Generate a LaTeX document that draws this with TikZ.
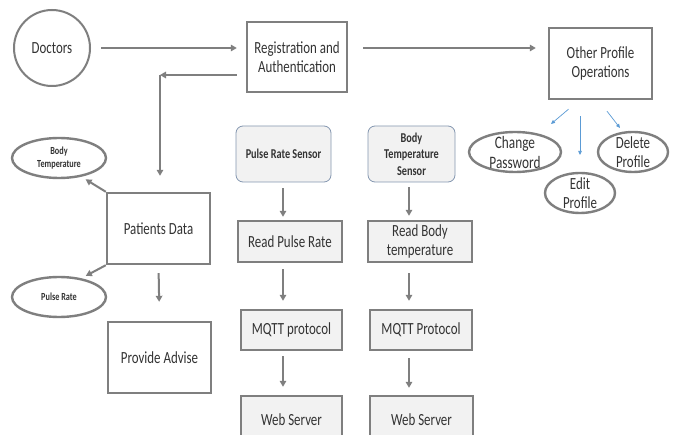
\documentclass[tikz,border=0pt]{standalone}
\usepackage{fontspec}
\setmainfont{Carlito}[FakeStretch=0.76]
\usetikzlibrary{arrows.meta,shapes.geometric}

\definecolor{edge}{HTML}{7F7F7F}
\definecolor{ink}{HTML}{333333}
\definecolor{panel}{HTML}{F2F2F2}
\definecolor{sensoredge}{HTML}{8497B0}
\definecolor{bluearrow}{HTML}{5B9BD5}

\tikzset{
  box/.style={draw=edge, line width=2.4pt, fill=white, inner sep=0pt,
    align=center, text=ink, font=\fontsize{17}{18.5}\selectfont},
  greybox/.style={box, fill=panel},
  sensorbox/.style={draw=sensoredge, line width=0.8pt, rounded corners=7pt,
    fill=panel, inner sep=0pt, align=center, text=ink,
    font=\bfseries\fontsize{13.5}{16.5}\selectfont},
  oval/.style={ellipse, draw=edge, line width=2.4pt, fill=white, inner sep=0pt},
  ovaltext/.style={align=center, text=ink, inner sep=0pt},
  arr/.style={draw=edge, line width=2pt, -{Triangle[length=6pt,width=6.5pt]}},
  bluarr/.style={draw=bluearrow, line width=0.7pt, -{Triangle[length=4pt,width=3.5pt]}},
}

\begin{document}
\begin{tikzpicture}[x=1pt,y=-1pt]
\useasboundingbox (0,0) rectangle (676,435);
\fill[white] (0,0) rectangle (676,435);
\clip (0,0) rectangle (676,435);

% top row
\node[circle, draw=edge, line width=2pt, minimum size=76pt, inner sep=0pt,
      text=ink, font=\fontsize{17}{18.5}\selectfont] (doc) at (52,48) {Doctors};
\node[box, minimum width=100pt, minimum height=70pt] (reg) at (297,57)
  {Registration and\\Authentication};
\node[box, minimum width=103pt, minimum height=71pt] (op) at (600.5,63.5)
  {Other Profile\\Operations};

% profile operations
\node[oval, minimum width=92pt, minimum height=40pt,
      label={[ovaltext, font=\fontsize{17.5}{20}\selectfont]center:Change\\Password}] (cp) at (515,152) {};
\node[oval, minimum width=70pt, minimum height=40pt,
      label={[ovaltext, font=\fontsize{17}{19}\selectfont]center:Edit\\Profile}] (ep) at (580,193) {};
\node[oval, minimum width=70pt, minimum height=40pt,
      label={[ovaltext, font=\fontsize{17}{19}\selectfont]center:Delete\\Profile}] (dp) at (633,152) {};

% doctor side
\node[box, minimum width=103pt, minimum height=71pt] (pd) at (158.5,228.5) {Patients Data};
\node[box, minimum width=103pt, minimum height=71pt] (pa) at (159.5,357.5) {Provide Advise};
\node[oval, minimum width=94pt, minimum height=40pt,
      label={[ovaltext, font=\bfseries\fontsize{10.8}{12.8}\selectfont]center:Body\\Temperature}] (bt) at (59,158) {};
\node[oval, minimum width=94pt, minimum height=40pt,
      label={[ovaltext, font=\bfseries\fontsize{10.8}{12.8}\selectfont]center:Pulse Rate}] (pr) at (59,297) {};

% pulse rate chain
\node[sensorbox, minimum width=95pt, minimum height=56pt] (prs) at (283.5,154) {Pulse Rate Sensor};
\node[greybox, minimum width=104pt, minimum height=41pt] (rpr) at (290,241.5) {Read Pulse Rate};
\node[greybox, minimum width=101pt, minimum height=40pt] (mq1) at (291.5,330) {MQTT protocol};
\node[greybox, minimum width=101pt, minimum height=48pt] (ws1) at (291.5,420) {Web Server};

% body temperature chain
\node[sensorbox, minimum width=87pt, minimum height=56pt] (bts) at (411.5,154) {Body\\Temperature\\Sensor};
\node[greybox, minimum width=104pt, minimum height=41pt] (rbt) at (420,241.5) {Read Body\\temperature};
\node[greybox, minimum width=102pt, minimum height=40pt] (mq2) at (421,330) {MQTT Protocol};
\node[greybox, minimum width=103pt, minimum height=48pt] (ws2) at (421.5,420) {Web Server};

% connectors
\coordinate (turn) at (160,75);
\coordinate (c2) at (283,0);
\coordinate (c3) at (409,0);

\draw[arr, shorten <=10pt, shorten >=9pt] (doc.east) -- (doc.east -| reg.west);
\draw[arr, shorten <=15pt, shorten >=12pt] (reg.east |- doc.east) -- (op.west |- doc.east);
\draw[arr, shorten <=9pt] (reg.west |- turn) -- (turn);
\draw[arr, shorten >=16pt] (turn) -- (pd.north -| turn);
\draw[arr, shorten <=8pt, shorten >=19pt] (pd.south) -- (pa.north);
\draw[arr, shorten >=5pt] (pd.north west) -- (bt.-40);
\draw[arr, shorten >=5pt] (pd.south west) -- (pr.40);

\draw[arr, shorten <=6pt, shorten >=3pt] (prs.south -| c2) -- (rpr.north -| c2);
\draw[arr, shorten <=6pt, shorten >=8pt] (rpr.south -| c2) -- (mq1.north -| c2);
\draw[arr, shorten <=5pt, shorten >=8pt] (mq1.south -| c2) -- (ws1.north -| c2);

\draw[arr, shorten <=5pt, shorten >=4pt] (bts.south -| c3) -- (rbt.north -| c3);
\draw[arr, shorten <=10pt, shorten >=8pt] (rbt.south -| c3) -- (mq2.north -| c3);
\draw[arr, shorten <=7pt, shorten >=7pt] (mq2.south -| c3) -- (ws2.north -| c3);

\draw[bluarr] ([shift={(-32,9)}]op.south) -- ([shift={(36,-28)}]cp.center);
\draw[bluarr] ([shift={(-20.5,16)}]op.south) -- ([shift={(0,-38)}]ep.center);
\draw[bluarr] ([shift={(6.5,11)}]op.south) -- ([shift={(-13,-24)}]dp.center);
\end{tikzpicture}
\end{document}
